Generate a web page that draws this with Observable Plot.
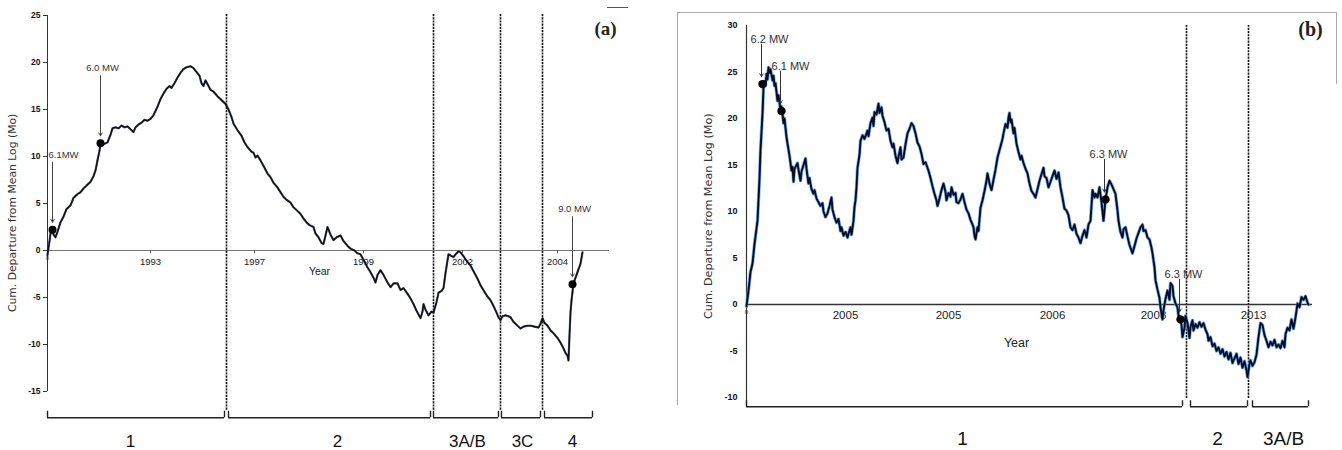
<!DOCTYPE html>
<html><head><meta charset="utf-8">
<script src="https://cdn.jsdelivr.net/npm/d3@7"></script>
<script src="https://cdn.jsdelivr.net/npm/@observablehq/plot@0.6"></script>
<style>
body{margin:0;background:#fff;}
#wrap{position:relative;width:1342px;height:450px;overflow:hidden;background:#fff;}
#pa{position:absolute;left:0;top:0;}
#pb{position:absolute;left:670px;top:0;}
.ln{position:absolute;background:#a8a8a8;}
</style></head><body>
<div id="wrap">
<div id="pa"></div><div id="pb"></div>
<div class="ln" style="left:677px;top:12px;width:660px;height:1px"></div>
<div class="ln" style="left:677px;top:12px;width:1px;height:393px"></div>
<div class="ln" style="left:1336px;top:12px;width:1px;height:72px"></div>
<div class="ln" style="left:607px;top:7px;width:21px;height:1px;background:#555"></div>
</div>
<script>
// ---------- Panel (a) data ----------
const seriesA = [
[0,-0.5],[1,0.3],[2,1.0],[3,1.8],[5,2.1],[6,1.7],[8,1.4],[10,2.0],[13,3.0],[16,3.6],[19,4.4],[23,4.8],[26,5.6],[30,6.0],[33,6.2],[36,6.6],[40,7.0],[43,7.3],[46,7.9],[48,8.5],[50,9.6],[52,10.6],[53,11.4],[56,11.3],[60,11.5],[63,12.3],[65,13.0],[68,13.1],[71,13.0],[74,13.3],[77,13.1],[80,13.2],[83,12.9],[86,12.6],[88,13.1],[91,13.4],[94,13.6],[97,13.9],[100,13.8],[103,14.0],[106,14.4],[110,15.3],[113,16.1],[116,16.7],[119,17.2],[122,17.5],[124,17.3],[127,17.8],[130,18.4],[133,18.9],[136,19.3],[139,19.5],[143,19.6],[146,19.4],[149,19.0],[152,18.6],[154,17.8],[156,17.5],[158,18.1],[160,17.7],[163,17.1],[166,16.9],[170,16.4],[174,16.0],[178,15.6],
[181,15.0],[184,14.2],[186,13.5],[190,12.8],[194,12.2],[197,11.5],[200,11.0],[204,10.5],[206,10.4],[208,9.9],[210,10.1],[213,9.6],[216,9.0],[220,8.2],[223,7.8],[226,7.2],[230,6.7],[233,6.2],[236,5.7],[239,5.4],[243,5.1],[246,4.6],[250,4.2],[253,3.9],[256,3.4],[259,3.0],[262,2.7],[266,2.5],[268,1.8],[271,1.4],[274,0.8],[276,0.7],[278,1.6],[280,2.5],[283,1.7],[286,1.1],[289,1.4],[293,1.6],[296,1.0],[300,0.5],[303,0.2],[307,0.0],[310,-0.3],[313,-0.4],[316,-1.0],[320,-1.8],[323,-2.3],[326,-2.9],[328,-3.4],[330,-2.6],[333,-2.1],[336,-2.6],[340,-3.4],[343,-3.9],[346,-3.5],[350,-3.5],[353,-4.2],[356,-4.0],[360,-4.6],[363,-5.1],[366,-5.7],[369,-6.4],[373,-7.2],[375,-6.5],[376,-5.7],[378,-6.3],[381,-6.9],[384,-6.5],[386,-6.6],[389,-5.5],[391,-4.5],[394,-4.3],[396,-4.0],[398,-2.4],[401,-0.4],[404,-0.6],[406,-0.7],[409,-0.3],[411,-0.1],[413,-0.2],[416,-0.6],[419,-1.1],[423,-1.6],[426,-2.2],[430,-3.0],[433,-3.7],[437,-4.4],[440,-4.9],[443,-5.3],[446,-5.9],[449,-6.6],[451,-7.1],[453,-7.4],[455,-7.0],[458,-6.9],[461,-7.0],[463,-7.1],[466,-7.6],[469,-7.9],[473,-8.3],[476,-8.1],[480,-8.0],[483,-8.0],[487,-8.1],[491,-8.2],[493,-7.8],[495,-7.2],[497,-7.7],[500,-8.0],[503,-8.5],[506,-8.8],[510,-9.3],[513,-9.8],[516,-10.4],[518,-10.9],[520,-11.2],[521,-11.7],[522,-9.0],[523,-6.6],[524,-5.3],[526,-3.5],[528,-2.9],[530,-2.3],[533,-1.4],[535,-0.2]
];
const yTicksA = [-15,-10,-5,0,5,10,15,20,25];
const yearLabelsA = ["1993","1997","1999","2002","2004"];
const yearPosA = [103,207,316,415,510];
const phaseBreaksA = [179,386,453,495];
const phaseSpansA = [[0,177],[181,383],[386,451],[454,493],[497,545]];
const phaseNamesA = ["1","2","3A/B","3C","4"];
const phaseLabelPosA = [83,290,420,475,525];
const quakeNamesA = ["6.1MW","6.0 MW","9.0 MW"];
const quakeTA = [5,53,525];
const quakeVA = [2.2,11.4,-3.6];

// ---------- Panel (b) data ----------
const seriesB = [
[0,-0.2],[2,1.5],[4,3.5],[6,4.4],[8,6.5],[11,9.0],[13,13.5],[14,16.6],[16,20.5],[17,23.3],[18,24.0],[19,23.5],[20,24.8],[21,24.2],[22,25.5],[23,24.9],[24,25.3],[26,24.1],[27,24.6],[28,23.5],[29,23.8],[31,21.9],[32,22.5],[34,20.9],[35,21.3],[36,20.5],[37,19.5],[38,20.0],[40,18.0],[41,17.3],[43,16.0],[45,14.4],[46,14.8],[47,13.2],[48,14.6],[51,15.2],[52,14.5],[54,13.3],[55,14.3],[57,15.0],[59,15.7],[60,14.6],[62,13.0],[63,13.6],[65,12.4],[67,11.9],[68,12.3],[70,11.4],[72,11.0],[74,10.6],[76,10.9],[77,10.0],[79,9.4],[81,9.8],[83,10.6],[85,11.5],[86,10.2],[88,9.4],[90,8.8],[92,9.2],[94,7.9],[95,8.3],[97,7.4],[99,7.8],[101,7.2],[102,7.6],[104,8.3],[105,7.5],[107,9.0],[108,10.5],[109,11.2],[110,12.6],[111,14.7],[113,16.1],[114,17.6],[116,18.2],[118,17.8],[121,18.7],[122,18.1],[124,19.5],[126,20.1],[127,19.2],[128,20.7],[130,20.4],[132,21.6],[133,20.6],[135,21.2],[136,20.3],[138,19.6],[140,18.7],[142,18.9],[144,17.6],[146,16.9],[147,17.3],[149,16.0],[151,15.2],[152,15.9],[154,16.9],[155,15.6],[157,15.8],[159,17.2],[161,18.4],[163,18.9],[165,19.5],[167,19.2],[169,18.4],[171,17.4],[173,17.0],[175,16.2],[177,15.1],[179,15.3],[182,14.4],[184,13.6],[186,12.7],[188,11.9],[190,11.2],[191,10.6],[193,11.4],[195,12.3],[197,13.0],[199,12.1],[200,11.2],[202,12.0],[204,11.6],[205,12.6],[207,11.8],[209,12.0],[210,11.0],[212,10.9],[214,11.3],[216,11.9],[218,11.0],[220,10.2],[222,9.8],[224,9.1],[226,8.6],[227,8.3],[228,7.4],[229,7.0],[231,8.3],[232,7.9],[234,10.4],[236,11.2],[238,12.2],[240,13.3],[241,14.1],[243,13.0],[245,12.3],[247,13.4],[249,14.5],[251,15.8],[254,17.0],[256,17.8],[257,18.4],[259,19.4],[261,19.0],[262,20.1],[263,20.6],[264,19.6],[265,19.9],[267,18.4],[268,19.0],[270,17.3],[272,16.4],[274,15.6],[275,16.0],[277,15.2],[279,14.6],[281,14.1],[283,13.0],[285,12.2],[287,11.9],[289,11.5],[291,12.4],[293,13.3],[295,14.0],[297,14.7],[298,13.8],[300,13.6],[302,12.6],[304,13.2],[306,13.8],[308,14.4],[310,13.5],[312,14.2],[314,12.6],[316,11.5],[318,10.3],[320,10.1],[322,9.6],[324,8.3],[326,8.0],[328,8.6],[330,7.6],[332,7.2],[334,6.6],[336,7.4],[338,8.0],[340,7.2],[342,8.6],[344,9.0],[346,12.3],[348,11.5],[349,11.9],[351,11.5],[353,12.6],[355,11.0],[357,9.0],[359,11.3],[361,12.6],[363,13.3],[365,12.9],[367,12.4],[369,11.9],[371,10.1],[372,9.0],[374,7.8],[376,7.2],[377,8.1],[379,8.3],[381,7.3],[383,6.4],[385,5.8],[386,5.5],[388,6.3],[390,7.1],[392,7.7],[394,8.3],[396,8.6],[397,7.9],[399,8.0],[401,7.2],[403,7.0],[405,6.1],[406,5.5],[408,4.0],[409,2.6],[411,1.6],[413,0.7],[414,-0.3],[416,-1.6],[417,-0.6],[419,0.6],[421,1.5],[423,0.5],[424,2.3],[426,2.0],[427,0.9],[429,0.1],[431,-0.3],[432,-1.2],[434,-1.6],[435,-2.2],[436,-3.5],[438,-2.5],[439,-1.2],[441,-2.0],[443,-3.6],[444,-2.4],[446,-1.7],[447,-2.8],[449,-2.1],[451,-2.5],[453,-1.9],[455,-2.4],[457,-2.0],[459,-2.7],[461,-3.2],[462,-3.9],[464,-3.5],[466,-4.5],[468,-4.2],[470,-5.0],[472,-4.6],[474,-5.3],[476,-4.8],[478,-5.6],[480,-5.1],[482,-5.9],[484,-5.2],[486,-6.3],[488,-5.8],[490,-5.3],[492,-6.4],[494,-5.7],[496,-6.8],[498,-6.1],[500,-7.1],[501,-7.8],[503,-6.4],[504,-6.0],[506,-6.6],[508,-6.2],[510,-5.4],[512,-3.5],[514,-2.0],[516,-2.2],[518,-3.3],[520,-3.9],[522,-4.6],[524,-4.0],[526,-4.4],[528,-3.8],[530,-4.6],[532,-4.3],[534,-4.7],[536,-3.9],[538,-4.6],[539,-3.2],[541,-2.5],[543,-2.8],[545,-1.6],[547,-2.6],[549,-1.4],[551,0.1],[553,-0.3],[555,0.8],[557,0.5],[559,0.9],[561,0.2],[562,0.0]
];
const yTicksB = [-10,-5,0,5,10,15,20,25,30];
const yearLabelsB = ["2005","2005","2006","2008","2013"];
const yearPosB = [99,202,306,407,507];
const phaseBreaksB = [440,502];
const phaseSpansB = [[0,436],[444,501],[506,562]];
const phaseNamesB = ["1","2","3A/B"];
const phaseLabelPosB = [216,471,537];
const quakeNamesB = ["6.2 MW","6.1 MW","6.3 MW","6.3 MW"];
const quakeTB = [16,35,359,434];
const quakeVB = [23.7,20.8,11.3,-1.6];

const yLabel = "Cum. Departure from Mean Log (Mo)";
const sans = "'Liberation Sans', Arial, sans-serif";

// ---------- Panel (a) ----------
const ptsA = seriesA.map(([t, v]) => ({t, v}));
const qA = quakeNamesA.map((n, i) => ({n, t: quakeTA[i], v: quakeVA[i]}));
const plotA = Plot.plot({
  width: 670, height: 450,
  marginLeft: 47, marginRight: 63, marginTop: 15, marginBottom: 59,
  x: {domain: [0, 560], axis: null},
  y: {domain: [-15, 25], axis: null},
  style: {fontFamily: sans, background: "transparent", overflow: "visible"},
  marks: [
    Plot.ruleX(phaseBreaksA, {y1: -17.0, y2: 25.1, stroke: "#111", strokeWidth: 1.6, strokeDasharray: "2.2,1"}),
    Plot.ruleY([0], {x1: 0, x2: 562, stroke: "#777", strokeWidth: 1.2}),
    Plot.ruleX([0], {y1: -15, y2: 25, stroke: "#333"}),
    Plot.ruleY(yTicksA, {x1: -4, x2: 0, stroke: "#333"}),
    Plot.text(yTicksA, {x: -7, y: d => d, text: d => String(d), textAnchor: "end", fontWeight: "bold", fontSize: 8.5, fill: "#111"}),
    Plot.ruleX(yearPosA, {y1: 0, y2: -0.35, stroke: "#555"}),
    Plot.text(yearLabelsA, {x: (d, i) => yearPosA[i], y: -1.25, text: d => d, fontSize: 9.5, fill: "#222"}),
    Plot.text(["0"], {x: 0, y: -0.85, text: d => d, fontSize: 6, fill: "#333"}),
    Plot.text(["Year"], {x: 272, y: -2.3, text: d => d, fontSize: 10.5, fill: "#222"}),
    Plot.text([yLabel], {x: -35, y: 4.0, text: d => d, rotate: -90, fontSize: 10.8, fill: "#333", fontFamily: "'DejaVu Sans', sans-serif"}),
    Plot.line(ptsA, {x: "t", y: "v", stroke: "#2a3a7a", strokeWidth: 2.3, strokeOpacity: 0.6}),
    Plot.line(ptsA, {x: "t", y: "v", stroke: "#111", strokeWidth: 1.6}),
    Plot.arrow(qA, {x1: "t", x2: "t", y1: d => d.v + 7.2, y2: d => d.v + 0.8, stroke: "#444", strokeWidth: 1, headLength: 5}),
    Plot.dot(qA, {x: "t", y: "v", r: 4, fill: "#000"}),
    Plot.text(qA, {x: d => d.t + 11 - (d.n === "6.1MW" ? 0 : 9), y: d => d.v + 8.0, text: "n", fontSize: 9.5, fill: "#333"}),
    Plot.ruleY(phaseSpansA, {x1: d => d[0], x2: d => d[1], y: -17.8, stroke: "#222", strokeWidth: 1.4}),
    Plot.ruleX(phaseSpansA.flat(), {y1: -17.8, y2: -17.1, stroke: "#222", strokeWidth: 1.4}),
    Plot.text(phaseNamesA, {x: (d, i) => phaseLabelPosA[i], y: -20.3, text: d => d, fontSize: 17, fill: "#111"}),
    Plot.text(["(a)"], {x: 558, y: 23.6, text: d => d, fontSize: 19, fontWeight: "bold", fontFamily: "'Liberation Serif', 'Times New Roman', serif", fill: "#222"})
  ]
});
document.getElementById("pa").appendChild(plotA);

// ---------- Panel (b) ----------
const ptsB = seriesB.map(([t, v]) => ({t, v}));
const qB = quakeNamesB.map((n, i) => ({n, t: quakeTB[i], v: quakeVB[i]}));
const plotB = Plot.plot({
  width: 672, height: 450,
  marginLeft: 76, marginRight: 26, marginTop: 25, marginBottom: 53,
  x: {domain: [0, 570], axis: null},
  y: {domain: [-10, 30], axis: null},
  style: {fontFamily: sans, background: "transparent", overflow: "visible"},
  marks: [
    Plot.ruleX(phaseBreaksB, {y1: -10.1, y2: 30, stroke: "#111", strokeWidth: 1.6, strokeDasharray: "2.2,1"}),
    Plot.ruleY([0], {x1: 0, x2: 566, stroke: "#333", strokeWidth: 1.3}),
    Plot.ruleX([0], {y1: -11.0, y2: 30, stroke: "#333", strokeWidth: 1.2}),
    Plot.text(yTicksB, {x: -9, y: d => d, text: d => String(d), textAnchor: "end", fontWeight: "bold", fontSize: 9, fill: "#111"}),
    Plot.text(yearLabelsB, {x: (d, i) => yearPosB[i], y: -1.2, text: d => d, fontSize: 11.5, fill: "#222"}),
    Plot.text(["0"], {x: 0, y: -0.8, text: d => d, fontSize: 6, fill: "#333"}),
    Plot.text(["Year"], {x: 270, y: -4.1, text: d => d, fontSize: 12.5, fill: "#222"}),
    Plot.text([yLabel], {x: -38, y: 9.5, text: d => d, rotate: -90, fontSize: 11.2, fill: "#333", fontFamily: "'DejaVu Sans', sans-serif"}),
    Plot.line(ptsB, {x: "t", y: "v", stroke: "#4aa0dc", strokeWidth: 3.4, strokeOpacity: 0.75}),
    Plot.line(ptsB, {x: "t", y: "v", stroke: "#17205a", strokeWidth: 2.0}),
    Plot.line(ptsB, {x: "t", y: "v", stroke: "#000", strokeWidth: 0.9}),
    Plot.arrow(qB, {x1: d => d.t - 1, x2: d => d.t - 1, y1: d => d.v + 4.3, y2: d => d.v + 0.8, stroke: "#333", strokeWidth: 1, headLength: 5}),
    Plot.dot(qB, {x: "t", y: "v", r: 4.2, fill: "#000"}),
    Plot.text(qB, {x: d => d.t + (d.n === "6.2 MW" ? 7 : d.n === "6.1 MW" ? 9 : 3), y: d => d.v + 4.8, text: "n", fontSize: 11, fill: "#333"}),
    Plot.ruleY(phaseSpansB, {x1: d => d[0], x2: d => d[1], y: -11.0, stroke: "#222", strokeWidth: 1.4}),
    Plot.ruleX(phaseSpansB.flat(), {y1: -11.0, y2: -10.35, stroke: "#222", strokeWidth: 1.4}),
    Plot.text(phaseNamesB, {x: (d, i) => phaseLabelPosB[i], y: -14.4, text: d => d, fontSize: 19, fill: "#111"}),
    Plot.text(["(b)"], {x: 564, y: 29.6, text: d => d, fontSize: 20, fontWeight: "bold", fontFamily: "'Liberation Serif', 'Times New Roman', serif", fill: "#222"})
  ]
});
document.getElementById("pb").appendChild(plotB);
</script>
</body></html>
